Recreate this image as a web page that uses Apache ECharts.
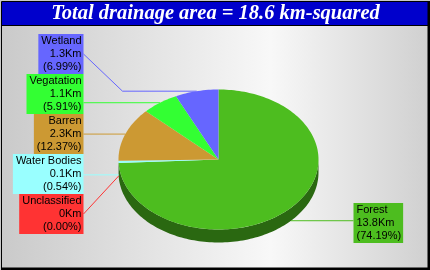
<!DOCTYPE html>
<html><head><meta charset="utf-8">
<script src="https://cdn.jsdelivr.net/npm/echarts@6/dist/echarts.min.js"></script>
<style>html,body{margin:0;padding:0;background:#fff}#c{width:430px;height:270px}</style>
</head><body><div id="c"></div>
<script>
// ---- data ----
const categories = ['Forest', 'Unclassified', 'Water Bodies', 'Barren', 'Vegatation', 'Wetland'];
const areas = [13.8, 0, 0.1, 2.3, 1.1, 1.3];
const sliceColors = ['#4dbd1f', '#ff3333', '#99ffff', '#cc9933', '#33ff33', '#6666ff'];
const unitLabel = 'Km';
const titleText = 'Total drainage area = 18.6 km-squared';

// ---- geometry / layout ----
const CX = 218.5, CY = 159.5, RX = 100, RY = 70, DEPTH = 13;
const LBL_H = 40, LBL_RY = RY + 3.5;
const LEFT_EDGE = CX - RX - 35, RIGHT_EDGE = CX + RX + 35;
const FONT = '11px "Liberation Sans", Arial, sans-serif';

const total = areas.reduce((a, b) => a + b, 0);
const starts = [], ends = [];
let acc = 0;
areas.forEach(v => { starts.push(acc / total * 360); acc += v; ends.push(acc / total * 360); });

function pt(deg, dy) {
  const r = deg * Math.PI / 180;
  return [CX + RX * Math.sin(r), CY - RY * Math.cos(r) + (dy || 0)];
}
function arc(a1, a2, dy) {
  const n = Math.max(2, Math.ceil((a2 - a1) / 1.5) + 1);
  const p = [];
  for (let k = 0; k < n; k++) p.push(pt(a1 + (a2 - a1) * k / (n - 1), dy));
  return p;
}
function shade(hex, f) {
  const n = parseInt(hex.slice(1), 16);
  return 'rgb(' + Math.round(((n >> 16) & 255) * f) + ',' + Math.round(((n >> 8) & 255) * f) + ',' + Math.round((n & 255) * f) + ')';
}

// anchors + label layout
const anchors = areas.map((v, i) => {
  const mid = (starts[i] + ends[i]) / 2;
  const c = Math.cos(mid * Math.PI / 180);
  const p = pt(mid);
  const lower = c < 0;
  if (lower) p[1] += DEPTH;
  const ideal = CY - LBL_RY * c + (lower ? DEPTH : 0);
  return { i: i, x: p[0], y: p[1], ideal: ideal, left: p[0] < CX };
});
function layoutSide(items) {
  items.sort((a, b) => a.ideal - b.ideal);
  const groups = items.map(it => ({ members: [it] }));
  const place = g => {
    const m = g.members.length;
    const mean = g.members.reduce((s, it) => s + it.ideal, 0) / m;
    g.top = Math.max(28, Math.min(mean - m * LBL_H / 2, 265 - m * LBL_H));
  };
  groups.forEach(place);
  let changed = true;
  while (changed) {
    changed = false;
    for (let k = 0; k < groups.length - 1; k++) {
      const a = groups[k], b = groups[k + 1];
      if (a.top + a.members.length * LBL_H > b.top + 0.01) {
        a.members = a.members.concat(b.members);
        groups.splice(k + 1, 1);
        place(a);
        changed = true;
        break;
      }
    }
  }
  groups.forEach(g => g.members.forEach((it, j) => { it.cy = Math.round(g.top + j * LBL_H + LBL_H / 2); }));
}
layoutSide(anchors.filter(a => a.left));
layoutSide(anchors.filter(a => !a.left));

function renderItem(params, api) {
  const i = params.dataIndex;
  const val = api.value(0);
  const col = sliceColors[i];
  const children = [];
  const a1 = Math.max(starts[i], 90), a2 = Math.min(ends[i], 270);
  if (a2 > a1) {
    const top = arc(a1, a2, 0), bot = arc(a1, a2, DEPTH).reverse();
    children.push({ type: 'polygon', shape: { points: top.concat(bot) }, style: { fill: shade(col, 0.55) }, z2: 1 });
  }
  if (ends[i] > starts[i]) {
    children.push({ type: 'polygon', shape: { points: [[CX, CY]].concat(arc(starts[i], ends[i], 0)) }, style: { fill: col }, z2: 2 });
  }
  const an = anchors[i];
  const edgeX = an.left ? LEFT_EDGE : RIGHT_EDGE;
  let pts;
  if (an.y >= an.cy - LBL_H / 2 && an.y <= an.cy + LBL_H / 2) {
    pts = [[an.x, an.y], [edgeX, an.y]];
  } else {
    const elbowX = an.left ? Math.min(an.x, CX - RX + 4) : Math.max(an.x, CX + RX - 4);
    pts = [[an.x, an.y], [elbowX, an.y], [edgeX, an.cy]];
  }
  children.push({ type: 'polyline', shape: { points: pts }, style: { stroke: col, lineWidth: 1, fill: null }, z2: 3 });
  const pct = (val / total * 100).toFixed(2);
  children.push({
    type: 'text', z2: 4,
    style: {
      x: edgeX, y: an.cy,
      text: categories[i] + '\n' + val + unitLabel + '\n(' + pct + '%)',
      align: an.left ? 'right' : 'left', verticalAlign: 'middle',
      font: FONT, lineHeight: 13, fill: '#000',
      backgroundColor: col, padding: [1, 2, 0, 3]
    }
  });
  return { type: 'group', children: children };
}

const chart = echarts.init(document.getElementById('c'), null, { renderer: 'canvas' });
chart.setOption({
  animation: false,
  graphic: [
    { type: 'rect', shape: { x: 0, y: 0, width: 430, height: 270 }, style: { fill: '#c8c8c8' }, z: -10 },
    { type: 'rect', shape: { x: 2, y: 26, width: 426, height: 242 }, z: -9,
      style: { fill: new echarts.graphic.LinearGradient(0, 0, 1, 0, [
        { offset: 0, color: '#cacaca' }, { offset: 0.63, color: '#f8f8f8' }, { offset: 1, color: '#d0d0d0' }]) } },
    { type: 'rect', shape: { x: 2, y: 2, width: 426, height: 23 }, style: { fill: '#0000cc' }, z: -8 },
    { type: 'line', shape: { x1: 2, y1: 25.5, x2: 428, y2: 25.5 }, style: { stroke: '#000', lineWidth: 1 }, z: -7 },
    { type: 'rect', shape: { x: 1.5, y: 1.5, width: 426.5, height: 266.5 }, style: { fill: null, stroke: '#000', lineWidth: 1 }, z: -7 },
    { type: 'line', shape: { x1: 429, y1: 1, x2: 429, y2: 270 }, style: { stroke: '#000', lineWidth: 2 }, z: -7 },
    { type: 'line', shape: { x1: 1, y1: 269, x2: 430, y2: 269 }, style: { stroke: '#000', lineWidth: 2 }, z: -7 },
    { type: 'text', x: 215.5, y: 14, z: -6,
      style: { text: titleText, align: 'center', verticalAlign: 'middle', fill: '#fff',
        font: 'italic bold 20.5px "Liberation Serif", "Times New Roman", serif' } }
  ],
  series: [{
    type: 'custom',
    coordinateSystem: 'none',
    renderItem: renderItem,
    data: areas.map((v, i) => ({ name: categories[i], value: v }))
  }]
});
</script></body></html>
